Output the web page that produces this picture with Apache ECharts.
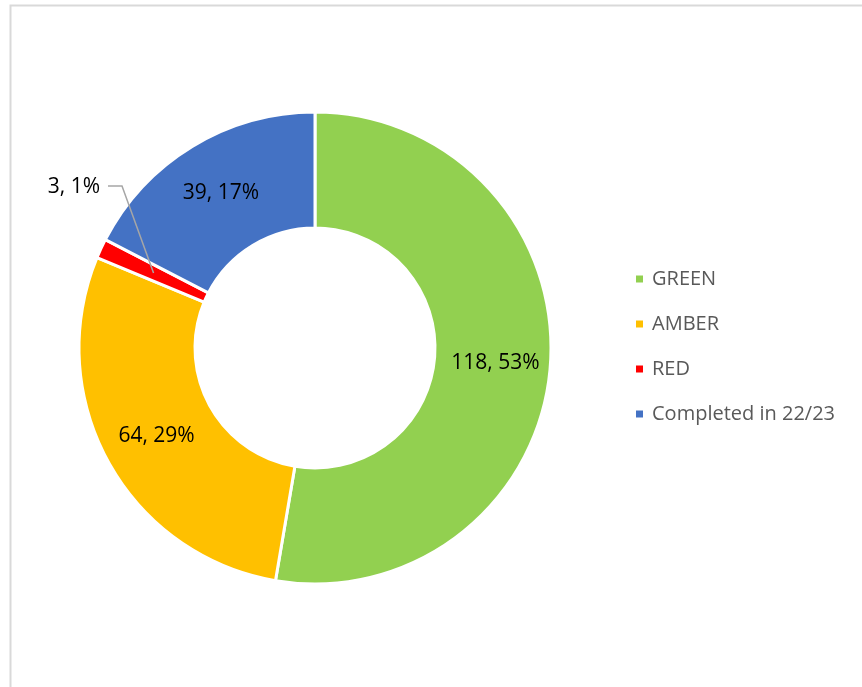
<!DOCTYPE html>
<html>
<head>
<meta charset="utf-8">
<script src="https://cdn.jsdelivr.net/npm/echarts@6/dist/echarts.min.js"></script>
<style>
  html, body { margin: 0; padding: 0; background: #fff; }
  #chart { width: 862px; height: 687px; }
</style>
</head>
<body>
<div id="chart"></div>
<script>
// 数据
const categories = ['GREEN', 'AMBER', 'RED', 'Completed in 22/23']
const values = [118, 64, 3, 39]
const colors = ['#92D050', '#FFC000', '#FF0000', '#4472C4']

const chart = echarts.init(document.getElementById('chart'))

const total = values.reduce((a, b) => a + b, 0)
const center = [315, 348]
const radius = [120, 236]
const outsideIdx = 2 // RED 标签放在外面

// 扇区中点（环中间半径处）
function sliceMid(idx) {
  let before = 0
  for (let i = 0; i < idx; i++) before += values[i]
  const frac = (before + values[idx] / 2) / total
  const ang = (90 - frac * 360) * Math.PI / 180
  const r = (radius[0] + radius[1]) / 2
  return [center[0] + Math.cos(ang) * r, center[1] - Math.sin(ang) * r]
}

const labelFmt = p => p.value + ', ' + Math.round(p.value / total * 100) + '%'

chart.setOption({
  animation: false,
  textStyle: { fontFamily: 'Open Sans' },
  graphic: [
    {
      type: 'rect',
      shape: { x: 10.5, y: 5.5, width: 900, height: 720 },
      style: { fill: 'none', stroke: '#d9d9d9', lineWidth: 2 },
      silent: true
    }
  ],
  legend: {
    orient: 'vertical',
    left: 629,
    top: 264,
    itemWidth: 9,
    itemHeight: 9,
    itemGap: 25,
    icon: 'rect',
    textStyle: { fontSize: 20, color: '#595959', fontFamily: 'Open Sans', padding: [0, 0, 0, 3] },
    data: categories
  },
  series: [
    {
      type: 'pie',
      z: 2,
      center: center,
      radius: radius,
      startAngle: 90,
      clockwise: true,
      avoidLabelOverlap: false,
      itemStyle: { borderColor: '#fff', borderWidth: 3 },
      label: {
        show: true,
        position: 'inside',
        color: '#000',
        fontSize: 21,
        fontFamily: 'Open Sans',
        formatter: labelFmt
      },
      labelLine: { show: false },
      data: categories.map((name, i) => {
        const d = { name: name, value: values[i], itemStyle: { color: colors[i] } }
        if (i === outsideIdx) d.label = { show: false }
        return d
      })
    },
    // 透明的覆盖层，只用来画 RED 的外部标签和引导线（在其他扇区之上）
    {
      type: 'pie',
      z: 5,
      silent: true,
      center: center,
      radius: radius,
      startAngle: 90,
      clockwise: true,
      avoidLabelOverlap: false,
      itemStyle: { color: 'rgba(0,0,0,0)', borderWidth: 0 },
      label: {
        show: false,
        position: 'outside',
        color: '#000',
        fontSize: 21,
        fontFamily: 'Open Sans',
        formatter: labelFmt
      },
      labelLine: {
        show: false,
        minTurnAngle: 0,
        maxSurfaceAngle: 180,
        lineStyle: { color: '#a6a6a6', width: 1.5 }
      },
      labelLayout: function (params) {
        if (params.dataIndex === outsideIdx) {
          return {
            x: 100, y: 187, align: 'right', verticalAlign: 'middle',
            labelLinePoints: [sliceMid(outsideIdx), [122, 186], [108, 186]]
          }
        }
      },
      data: categories.map((name, i) => {
        const d = { name: name, value: values[i] }
        if (i === outsideIdx) {
          d.label = { show: true }
          d.labelLine = { show: true, length: 10, length2: 10 }
        }
        return d
      })
    }
  ]
})
</script>
</body>
</html>
